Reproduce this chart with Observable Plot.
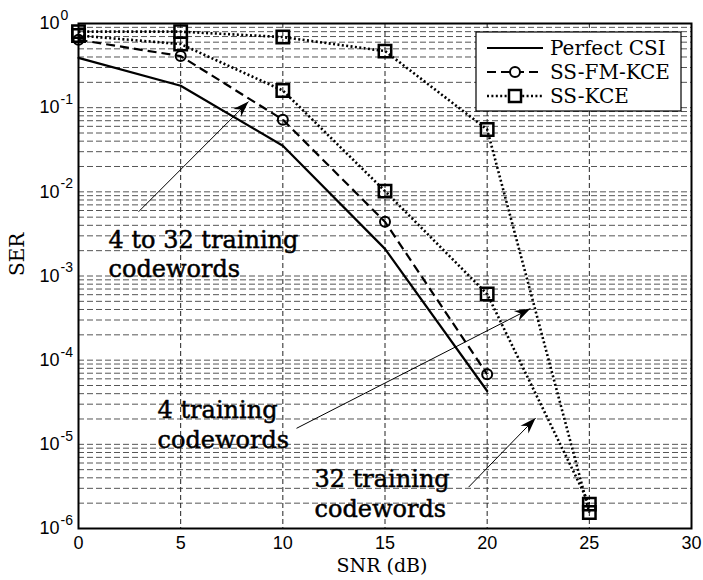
<!DOCTYPE html>
<html><head><meta charset="utf-8">
<script src="https://cdn.jsdelivr.net/npm/d3@7"></script>
<script src="https://cdn.jsdelivr.net/npm/@observablehq/plot@0.6"></script>
<style>
body{margin:0;background:#fff;}
#wrap{position:relative;width:703px;height:580px;background:#fff;}
</style></head><body><div id="wrap"></div>
<script>
// ---- data ----
const snr = [0, 5, 10, 15, 20, 25];
const perfectCSI = [0.39, 0.182, 0.0353, 0.0021, 4.3e-5];
const ssFmKce = [0.64, 0.41, 0.072, 0.0044, 6.8e-5];
const ssKce32 = [0.72, 0.57, 0.16, 0.0102, 6.1e-4, 1.95e-6];
const ssKce4 = [0.80, 0.80, 0.69, 0.47, 0.055, 1.55e-6];
const seriesNames = ["Perfect CSI", "SS-FM-KCE", "SS-KCE"];
const xTicks = [0, 5, 10, 15, 20, 25, 30];
const yTicks = [1e-6, 1e-5, 1e-4, 1e-3, 1e-2, 1e-1, 1];
const annoText = ["4 to 32 training", "codewords", "4 training", "codewords", "32 training", "codewords"];
const annoX = [1.47, 1.47, 3.87, 3.87, 11.55, 11.55];
const annoY = [2.18e-3, 9.6e-4, 2.05e-5, 9.0e-6, 3.1e-6, 1.37e-6];
const arrowX1 = [2.94, 10.67, 19.09];
const arrowY1 = [5.8e-3, 1.55e-5, 3.1e-6];
const arrowX2 = [8.32, 22.12, 22.37];
const arrowY2 = [0.118, 4.1e-4, 2.05e-5];

// ---- derived tables ----
const rows = arr => arr.map((v, i) => ({x: snr[i], y: v}));
const yGrid = [];
for (let k = -6; k < 0; k++) for (let m = 1; m <= 9; m++) yGrid.push(m * Math.pow(10, k));
const xGrid = xTicks.filter(d => d > 0 && d < 30);
const annotations = annoText.map((t, i) => ({x: annoX[i], y: annoY[i], text: t}));
const arrows = arrowX1.map((_, i) => ({x1: arrowX1[i], y1: arrowY1[i], x2: arrowX2[i], y2: arrowY2[i]}));

const arrowHead = {draw(ctx) { const L = 16, W = 5.5, N = 11; ctx.moveTo(0, 0); ctx.lineTo(W, L); ctx.lineTo(0, N); ctx.lineTo(-W, L); ctx.closePath(); }};
const serif = "DejaVu Serif, serif";
const dotted = "2,2.4";
const dashed = "9,5";

function build(angles) {
  return Plot.plot({
    width: 703, height: 580,
    marginLeft: 78, marginRight: 12, marginTop: 23, marginBottom: 52,
    style: {fontFamily: "Liberation Sans, Arial, sans-serif", fontSize: "18px", background: "white", color: "black"},
    x: {domain: [0, 30]},
    y: {type: "log", domain: [1e-6, 1]},
    marks: [
      Plot.ruleY(yGrid, {stroke: "#555", strokeWidth: 1, strokeDasharray: "6,3"}),
      Plot.ruleX(xGrid, {stroke: "#222", strokeWidth: 1, strokeDasharray: "5,3"}),
      Plot.axisX({ticks: xTicks, tickSize: 0, tickPadding: 8, fontSize: 18, label: null}),
      Plot.axisY({ticks: yTicks, tickSize: 0, tickPadding: 19, fontSize: 18, tickFormat: () => "10", label: null}),
      Plot.text(yTicks, {y: d => d, frameAnchor: "left", text: d => String(Math.round(Math.log10(d))), dx: -18, dy: -8, textAnchor: "start", fontSize: 14}),
      Plot.text(["SER"], {text: d => d, frameAnchor: "left", dx: -61, rotate: -90, fontFamily: serif, fontSize: 20}),
      Plot.text(["SNR (dB)"], {text: d => d, frameAnchor: "bottom", dy: 43, dx: -3, fontFamily: serif, fontSize: 19}),
      Plot.line(rows(perfectCSI), {x: "x", y: "y", stroke: "black", strokeWidth: 2.2}),
      Plot.line(rows(ssFmKce), {x: "x", y: "y", stroke: "black", strokeWidth: 2.2, strokeDasharray: dashed, strokeLinecap: "butt"}),
      Plot.line(rows(ssKce32), {x: "x", y: "y", stroke: "black", strokeWidth: 2.6, strokeDasharray: dotted, strokeLinecap: "butt"}),
      Plot.line(rows(ssKce4), {x: "x", y: "y", stroke: "black", strokeWidth: 2.6, strokeDasharray: dotted, strokeLinecap: "butt"}),
      Plot.dot(rows(ssFmKce), {x: "x", y: "y", r: 5, stroke: "black", strokeWidth: 2, fill: "none"}),
      Plot.dot(rows(ssKce32), {x: "x", y: "y", r: 7, symbol: "square", stroke: "black", strokeWidth: 2.5, fill: "none"}),
      Plot.dot(rows(ssKce4), {x: "x", y: "y", r: 7, symbol: "square", stroke: "black", strokeWidth: 2.5, fill: "none"}),
      Plot.text(annotations, {x: "x", y: "y", text: "text", textAnchor: "start", lineAnchor: "bottom", fontFamily: serif, fontSize: 24, fill: "black", stroke: "black", strokeWidth: 0.5}),
      Plot.link(arrows, {x1: "x1", y1: "y1", x2: "x2", y2: "y2", stroke: "black", strokeWidth: 1}),
      Plot.dot(arrows, {x: "x2", y: "y2", symbol: arrowHead, rotate: (d, i) => angles[i], r: 4, fill: "black", stroke: "none"}),
      Plot.frame({stroke: "black", strokeWidth: 2})
    ]
  });
}

const p0 = build(arrows.map(() => 0));
const sx = p0.scale("x"), sy = p0.scale("y");
const fx = d3.scaleLinear(sx.domain, sx.range);
const fy = d3.scaleLog(sy.domain, sy.range);
const angles = arrows.map(a => {
  const dx = fx(a.x2) - fx(a.x1), dy = fy(a.y2) - fy(a.y1);
  return Math.atan2(dx, -dy) * 180 / Math.PI;
});
const plot = build(angles);
const wrap = document.getElementById("wrap");
wrap.appendChild(plot);

// ---- legend overlay ----
const leg = d3.create("svg").attr("width", 208).attr("height", 82)
  .style("position", "absolute").style("left", "475px").style("top", "31px");
leg.append("rect").attr("x", 1).attr("y", 1).attr("width", 205).attr("height", 79)
  .attr("fill", "white").attr("stroke", "black").attr("stroke-width", 1.2);
const styles = [
  {dash: null, w: 2.2, mark: null},
  {dash: dashed, w: 2.2, mark: "circle"},
  {dash: dotted, w: 2.6, mark: "square"}
];
seriesNames.forEach((name, i) => {
  const cy = 17 + i * 24;
  const s = styles[i];
  const ln = leg.append("line").attr("x1", 12).attr("x2", 68).attr("y1", cy).attr("y2", cy)
    .attr("stroke", "black").attr("stroke-width", s.w);
  if (s.dash) ln.attr("stroke-dasharray", s.dash);
  if (s.mark === "circle") leg.append("circle").attr("cx", 40).attr("cy", cy).attr("r", 5)
    .attr("fill", "white").attr("stroke", "black").attr("stroke-width", 2);
  if (s.mark === "square") leg.append("rect").attr("x", 34).attr("y", cy - 6).attr("width", 12).attr("height", 12)
    .attr("fill", "white").attr("stroke", "black").attr("stroke-width", 2.5);
  leg.append("text").attr("x", 75).attr("y", cy).attr("dy", "0.35em")
    .attr("font-family", serif).attr("font-size", 20).attr("fill", "black").text(name);
});
wrap.appendChild(leg.node());
</script>
</body></html>
